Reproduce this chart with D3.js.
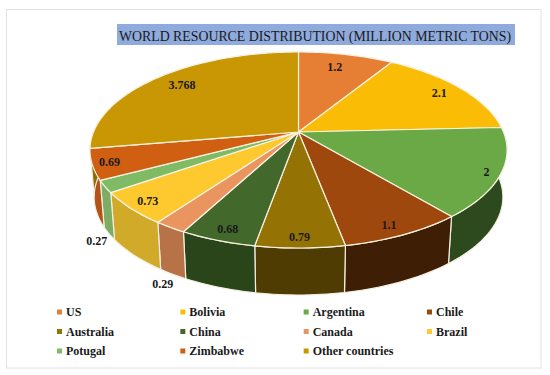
<!DOCTYPE html>
<html>
<head>
<meta charset="utf-8">
<script src="https://cdn.jsdelivr.net/npm/d3@7"></script>
<style>
  html, body { margin: 0; padding: 0; background: #fff; }
  svg { display: block; }
  text { font-family: "Liberation Serif", serif; fill: #1a1a1a; }
</style>
</head>
<body>
<script>
var countries = ["US", "Bolivia", "Argentina", "Chile", "Australia", "China", "Canada", "Brazil", "Potugal", "Zimbabwe", "Other countries"];
var tons = [1.2, 2.1, 2, 1.1, 0.79, 0.68, 0.29, 0.73, 0.27, 0.69, 3.768];
var labels = ["1.2", "2.1", "2", "1.1", "0.79", "0.68", "0.29", "0.73", "0.27", "0.69", "3.768"];
var topColors = ["#e67e33", "#fbbc05", "#6aa945", "#9e480e", "#947203", "#43682b", "#ea9560", "#fdc92f", "#7fbb64", "#d05f12", "#c99703"];
var wallColors = ["#a85a20", "#b88a04", "#2c4a1e", "#3f1e06", "#4f3c03", "#2a4519", "#b87248", "#d2aa2a", "#7cad62", "#b2531a", "#8f6c03"];

var width = 550;
var height = 375;
var cx = 298.5, cy = 132;      // where the slices meet
var rx = 205, ry = 94.7, tilt = 0.1837;
var depth = 47, wallShrink = 0.98;

var svg = d3.select("body").append("svg")
            .attr("width", width)
            .attr("height", height);

// frame
svg.append("rect")
   .attr("x", 6.5).attr("y", 9.5)
   .attr("width", 534.5).attr("height", 358.5)
   .attr("fill", "#fff")
   .attr("stroke", "#e2e2e2");

// title
svg.append("rect")
   .attr("x", 117).attr("y", 24)
   .attr("width", 398).attr("height", 21)
   .attr("fill", "#8faadc");
svg.append("text")
   .attr("x", 119).attr("y", 41)
   .attr("textLength", 392)
   .attr("lengthAdjust", "spacingAndGlyphs")
   .style("font-size", "15px")
   .text("WORLD RESOURCE DISTRIBUTION (MILLION METRIC TONS)");

var slices = d3.pie().sort(null).value(function(d) { return d; })(tons);

// pie angle to the tilted top face, r = 1 is the rim
var project = function(a, r) {
    var u = r * Math.sin(a), v = -r * Math.cos(a);
    var w = 1 - tilt * v;
    return [cx + rx * u / w, cy + ry * v / w];
};
var arcPoints = function(s) {
    var n = Math.max(2, Math.ceil((s.endAngle - s.startAngle) * 40));
    return d3.range(n + 1).map(function(i) {
        return project(s.startAngle + (s.endAngle - s.startAngle) * i / n, 1);
    });
};
var line = d3.line();

// walls first, the top face covers the back ones
svg.append("g").selectAll("path")
   .data(slices)
   .enter()
   .append("path")
   .attr("d", function(s) {
       var rim = arcPoints(s);
       var lower = rim.map(function(p) {
           return [cx + (p[0] - cx) * wallShrink, p[1] + depth];
       }).reverse();
       return line(rim.concat(lower)) + "Z";
   })
   .attr("fill", function(s, i) { return wallColors[i]; })
   .attr("stroke", "#f4efe0")
   .attr("stroke-width", 1.2)
   .attr("stroke-linejoin", "round");

svg.append("g").selectAll("path")
   .data(slices)
   .enter()
   .append("path")
   .attr("d", function(s) {
       return line([[cx, cy]].concat(arcPoints(s))) + "Z";
   })
   .attr("fill", function(s, i) { return topColors[i]; })
   .attr("stroke", "#f7f2e2")
   .attr("stroke-width", 1.2)
   .attr("stroke-linejoin", "round");

// data labels: pie angle and radius for each, outside ones sit past the rim
var labelAt = [
    [0.252, 0.811], [1.03, 0.866], [2.002, 0.937], [2.719, 0.912], [3.137, 0.921], [3.467, 0.91],
    [3.533, 1.341], [3.932, 0.913], [3.849, 1.25], [4.381, 0.921], [5.43, 0.83]
];
svg.append("g").selectAll("text")
   .data(labels)
   .enter()
   .append("text")
   .attr("text-anchor", "middle")
   .attr("x", function(d, i) { return project(labelAt[i][0], labelAt[i][1])[0]; })
   .attr("y", function(d, i) { return project(labelAt[i][0], labelAt[i][1])[1] + 4; })
   .style("font-size", "12px")
   .style("font-weight", "bold")
   .text(function(d) { return d; });

// legend
var legendX = d3.scalePoint().domain([0, 1, 2, 3]).range([57, 427]);
var legendY = d3.scalePoint().domain([0, 1, 2]).range([312, 351]);
var legend = svg.append("g").selectAll("g")
   .data(countries)
   .enter()
   .append("g")
   .attr("transform", function(d, i) {
       return "translate(" + legendX(i % 4) + "," + legendY(Math.floor(i / 4)) + ")";
   });
legend.append("rect")
   .attr("x", 0).attr("y", -2.5)
   .attr("width", 5).attr("height", 5)
   .attr("fill", function(d, i) { return topColors[i]; });
legend.append("text")
   .attr("x", 9).attr("y", 4)
   .style("font-size", "12px")
   .style("font-weight", "bold")
   .text(function(d) { return d; });
</script>
</body>
</html>
